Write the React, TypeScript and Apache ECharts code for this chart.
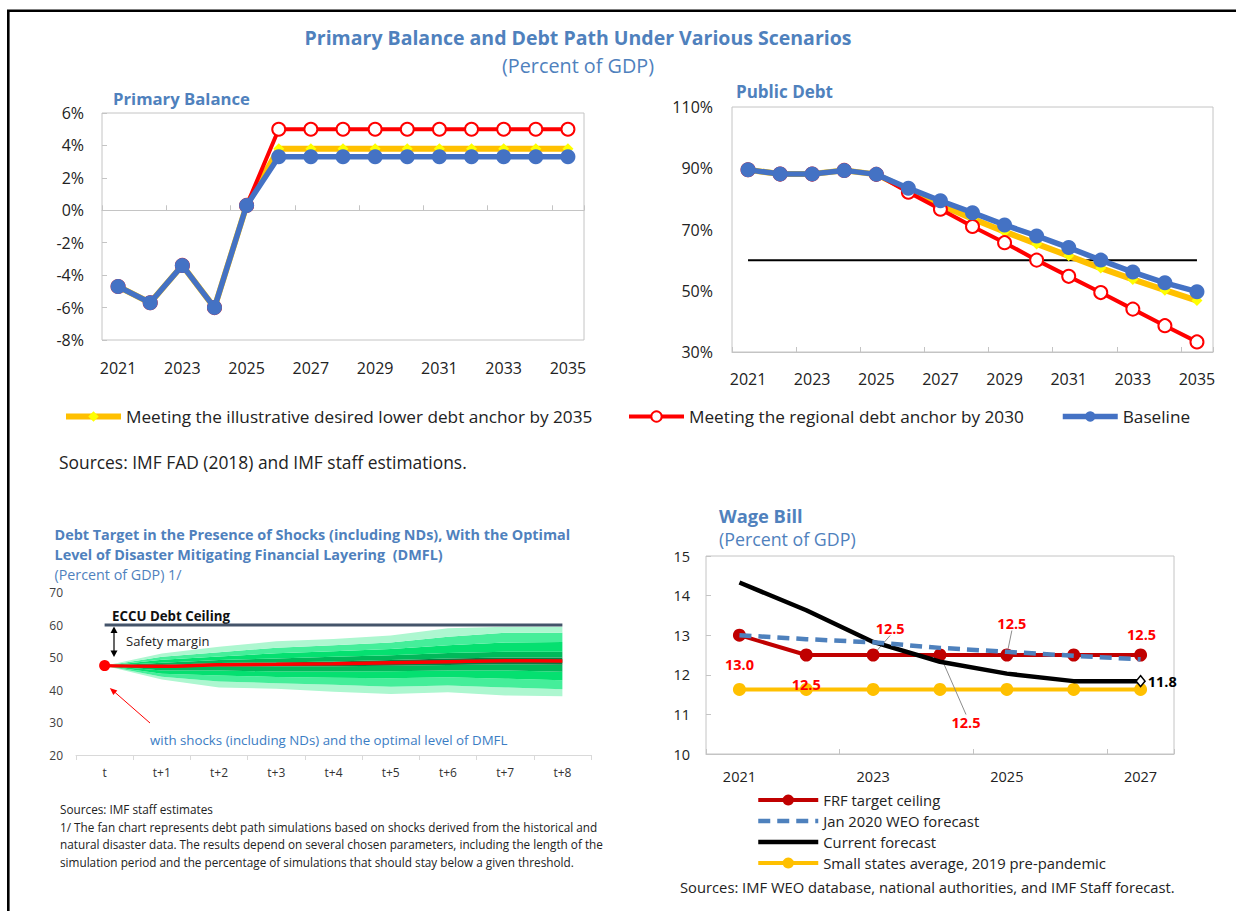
import React, { useEffect, useRef } from "react";
import * as echarts from "echarts";

// ---------------- DATA ----------------
const years = ["2021", "2022", "2023", "2024", "2025", "2026", "2027", "2028", "2029", "2030", "2031", "2032", "2033", "2034", "2035"];

const nameLower = "Meeting the illustrative desired lower debt anchor by 2035";
const nameRegional = "Meeting the regional debt anchor by 2030";
const nameBase = "Baseline";

const pbBaseline = [-4.7, -5.7, -3.4, -6.0, 0.3, 3.3, 3.3, 3.3, 3.3, 3.3, 3.3, 3.3, 3.3, 3.3, 3.3];
const pbRegional = [-4.7, -5.7, -3.4, -6.0, 0.3, 5.0, 5.0, 5.0, 5.0, 5.0, 5.0, 5.0, 5.0, 5.0, 5.0];
const pbLower = [-4.7, -5.7, -3.4, -6.0, 0.3, 3.8, 3.8, 3.8, 3.8, 3.8, 3.8, 3.8, 3.8, 3.8, 3.8];

const debtBaseline = [89.5, 88.1, 88.1, 89.3, 88.0, 83.5, 79.4, 75.5, 71.5, 67.9, 64.1, 60.0, 56.1, 52.6, 49.7];
const debtRegional = [89.5, 88.1, 88.1, 89.3, 88.0, 82.2, 76.6, 71.0, 65.7, 60.0, 54.7, 49.4, 44.0, 38.6, 33.3];
const debtLower = [89.5, 88.1, 88.1, 89.3, 88.0, 83.0, 78.0, 73.5, 69.3, 65.3, 61.4, 57.4, 53.7, 50.2, 46.8];
const debtAnchor = [60, 60, 60, 60, 60, 60, 60, 60, 60, 60, 60, 60, 60, 60, 60];

const fanPeriods = ["t", "t+1", "t+2", "t+3", "t+4", "t+5", "t+6", "t+7", "t+8"];
const fanMedian = [47.5, 47.3, 47.8, 47.9, 48.1, 48.4, 48.7, 49.0, 48.9];
const fanCeiling = [60, 60, 60, 60, 60, 60, 60, 60, 60];
const fanP05 = [47.5, 43.2, 40.8, 40.4, 39.5, 38.8, 39.3, 38.3, 38.1];
const fanP10 = [47.5, 44.1, 42.6, 42.1, 41.6, 41.0, 41.4, 40.8, 40.2];
const fanP20 = [47.5, 45.0, 44.5, 44.0, 43.8, 43.6, 43.9, 43.5, 43.0];
const fanP30 = [47.5, 46.0, 46.0, 45.7, 45.7, 45.8, 46.0, 46.0, 45.6];
const fanP40 = [47.5, 46.9, 47.3, 47.2, 47.3, 47.5, 47.7, 47.9, 47.8];
const fanP60 = [47.5, 47.7, 48.3, 48.5, 48.8, 49.2, 49.7, 50.0, 50.0];
const fanP70 = [47.5, 48.4, 49.2, 49.7, 50.2, 50.7, 51.4, 51.8, 51.8];
const fanP80 = [47.5, 49.3, 50.3, 51.3, 51.9, 52.6, 53.8, 54.6, 54.8];
const fanP90 = [47.5, 50.2, 51.6, 53.0, 53.8, 54.6, 56.4, 57.6, 57.6];
const fanP95 = [47.5, 51.2, 53.3, 55.0, 55.7, 56.8, 59.0, 59.5, 59.5];

const wageYears = ["2021", "2022", "2023", "2024", "2025", "2026", "2027"];
const wageFrf = [13.0, 12.5, 12.5, 12.5, 12.5, 12.5, 12.5];
const wageJan2020 = [13.0, 12.9, 12.82, 12.68, 12.58, 12.48, 12.39];
const wageCurrent = [14.33, 13.63, 12.83, 12.33, 12.03, 11.84, 11.84];
const wageSmallStates = [11.63, 11.63, 11.63, 11.63, 11.63, 11.63, 11.63];

const nameFrf = "FRF target ceiling";
const nameJan = "Jan 2020 WEO forecast";
const nameCur = "Current forecast";
const nameSmall = "Small states average, 2019 pre-pandemic";

// ---------------- STYLE ----------------
const FONT = "'Open Sans', 'Noto Sans', sans-serif";
const BLUE_T = "#4F81BD";
const AX = "#222222";
const BORDER = "#C4C4C4";

// label placement offsets for FRF labels (pixels, relative to point)
const frfLabelShift: (number[] | null)[] = [[0, 29], [0, 29], [17, -27], [26, 67], [5, -32], null, [1, -21]];
const frfLeader = [false, false, true, true, true, false, false];

function catAxis(gridIndex: number, data: string[], extra: any) {
  return Object.assign(
    {
      type: "category",
      gridIndex,
      data,
      boundaryGap: true,
      position: "bottom",
      splitLine: { show: false },
    },
    extra
  );
}

function topSeries(xi: number, yi: number, lower: number[], regional: number[], base: number[]) {
  return [
    {
      name: nameLower,
      type: "line",
      xAxisIndex: xi,
      yAxisIndex: yi,
      data: lower,
      showAllSymbol: true,
      symbol: "diamond",
      symbolSize: 11,
      itemStyle: { color: "#FFFF00" },
      lineStyle: { color: "#FFC000", width: 6 },
      z: 3,
    },
    {
      name: nameRegional,
      type: "line",
      xAxisIndex: xi,
      yAxisIndex: yi,
      data: regional,
      showAllSymbol: true,
      symbol: "circle",
      symbolSize: 13,
      itemStyle: { color: "#FFFFFF", borderColor: "#FF0000", borderWidth: 2 },
      lineStyle: { color: "#FF0000", width: 4 },
      z: 4,
    },
    {
      name: nameBase,
      type: "line",
      xAxisIndex: xi,
      yAxisIndex: yi,
      data: base,
      showAllSymbol: true,
      symbol: "circle",
      symbolSize: 15,
      itemStyle: { color: "#4472C4" },
      lineStyle: { color: "#4472C4", width: 5.5 },
      z: 5,
    },
  ];
}

function txt(text: string, x: number, y: number, font: string, fill: string, align = "left") {
  return {
    type: "text",
    x,
    y,
    silent: true,
    style: { text, font: font + " " + FONT, fill, align, verticalAlign: "middle" },
  };
}

const fanBounds = [fanP05, fanP10, fanP20, fanP30, fanP40, fanP60, fanP70, fanP80, fanP90, fanP95];
const fanColors = ["#ADF7D0", "#45EE9A", "#05E070", "#00B95A", "#0B7A41", "#00B95A", "#05E070", "#45EE9A", "#ADF7D0"];

function buildOption() {
  const fanSeries: any[] = [
    {
      type: "line",
      name: "fanBase",
      xAxisIndex: 3,
      yAxisIndex: 2,
      stack: "fan",
      data: fanP05,
      symbol: "none",
      silent: true,
      lineStyle: { width: 0, opacity: 0 },
      z: 1,
    },
  ];
  for (let k = 0; k < fanColors.length; k++) {
    const lo = fanBounds[k];
    const hi = fanBounds[k + 1];
    fanSeries.push({
      type: "line",
      name: "fanBand" + k,
      xAxisIndex: 3,
      yAxisIndex: 2,
      stack: "fan",
      data: hi.map((v, i) => Math.round((v - lo[i]) * 1000) / 1000),
      symbol: "none",
      silent: true,
      lineStyle: { width: 0, opacity: 0 },
      areaStyle: { color: fanColors[k], opacity: 1 },
      z: 1,
    });
  }

  const legendCommon = {
    padding: 0,
    itemGap: 0,
    selectedMode: false,
    textStyle: { fontSize: 17.2, color: AX, fontFamily: FONT },
    lineStyle: { width: "inherit" },
  };

  return {
    animation: false,
    backgroundColor: "#FFFFFF",
    textStyle: { fontFamily: FONT },
    grid: [
      { left: 102, top: 113, width: 482, height: 227, show: true, borderColor: BORDER, borderWidth: 1, outerBoundsMode: "none" },
      { left: 732, top: 107, width: 481, height: 245, show: true, borderColor: BORDER, borderWidth: 1, outerBoundsMode: "none" },
      { left: 76, top: 592.5, width: 515, height: 162.5, show: false, outerBoundsMode: "none" },
      { left: 706, top: 556, width: 468, height: 198, show: true, borderColor: BORDER, borderWidth: 1, outerBoundsMode: "none" },
    ],
    xAxis: [
      catAxis(0, years, {
        axisLine: { show: false, onZero: false },
        axisTick: { show: false },
        axisLabel: { interval: 1, fontSize: 16, color: AX, margin: 20, fontFamily: FONT },
      }),
      catAxis(0, years, {
        axisLine: { show: true, onZero: true, onZeroAxisIndex: 0, lineStyle: { color: BORDER, width: 1 } },
        axisTick: { show: true, inside: true, length: 5, lineStyle: { color: BORDER } },
        axisLabel: { show: false },
      }),
      catAxis(1, years, {
        axisLine: { show: true, onZero: false, lineStyle: { color: BORDER, width: 1 } },
        axisTick: { show: true, inside: true, length: 5, lineStyle: { color: BORDER } },
        axisLabel: { interval: 1, fontSize: 16, color: AX, margin: 19, fontFamily: FONT },
      }),
      catAxis(2, fanPeriods, {
        axisLine: { show: true, onZero: false, lineStyle: { color: "#D9D9D9", width: 1 } },
        axisTick: { show: true, inside: false, length: 5, lineStyle: { color: "#D9D9D9" } },
        axisLabel: { interval: 0, fontSize: 12, color: "#333333", margin: 11, fontFamily: FONT },
      }),
      catAxis(3, wageYears, {
        axisLine: { show: true, onZero: false, lineStyle: { color: BORDER, width: 1 } },
        axisTick: { show: true, inside: true, length: 5, lineStyle: { color: BORDER } },
        axisLabel: { interval: 1, fontSize: 14.5, color: AX, margin: 15, fontFamily: FONT },
      }),
    ],
    yAxis: [
      {
        type: "value",
        gridIndex: 0,
        min: -8,
        max: 6,
        interval: 2,
        axisLine: { show: false },
        axisTick: { show: true, inside: true, length: 5, lineStyle: { color: BORDER } },
        splitLine: { show: false },
        axisLabel: { formatter: "{value}%", fontSize: 16, color: AX, margin: 18, fontFamily: FONT },
      },
      {
        type: "value",
        gridIndex: 1,
        min: 30,
        max: 110,
        interval: 20,
        axisLine: { show: false },
        axisTick: { show: false },
        splitLine: { show: false },
        axisLabel: { formatter: "{value}%", fontSize: 16, color: AX, margin: 19, fontFamily: FONT },
      },
      {
        type: "value",
        gridIndex: 2,
        min: 20,
        max: 70,
        interval: 10,
        axisLine: { show: false },
        axisTick: { show: false },
        splitLine: { show: false },
        axisLabel: { fontSize: 12, color: "#404040", margin: 13, fontFamily: FONT },
      },
      {
        type: "value",
        gridIndex: 3,
        min: 10,
        max: 15,
        interval: 1,
        axisLine: { show: false },
        axisTick: { show: true, inside: true, length: 5, lineStyle: { color: BORDER } },
        splitLine: { show: false },
        axisLabel: { fontSize: 14.5, color: AX, margin: 16, fontFamily: FONT },
      },
    ],
    legend: [
      Object.assign({}, legendCommon, { data: [nameLower], left: 63, top: 408, itemWidth: 55, itemHeight: 13 }),
      Object.assign({}, legendCommon, { data: [nameRegional], left: 627, top: 408, itemWidth: 55, itemHeight: 13 }),
      Object.assign({}, legendCommon, { data: [nameBase], left: 1060, top: 408, itemWidth: 55, itemHeight: 13 }),
      Object.assign({}, legendCommon, {
        orient: "vertical",
        left: 756,
        top: 792.5,
        itemWidth: 60,
        itemHeight: 14,
        itemGap: 6,
        textStyle: { fontSize: 14.8, lineHeight: 14, color: AX, fontFamily: FONT },
        data: [
          { name: nameFrf },
          { name: nameJan, itemStyle: { opacity: 0 } },
          { name: nameCur, itemStyle: { opacity: 0 } },
          { name: nameSmall },
        ],
      }),
    ],
    series: [
      ...topSeries(0, 0, pbLower, pbRegional, pbBaseline),
      {
        name: "Regional debt anchor",
        type: "line",
        xAxisIndex: 2,
        yAxisIndex: 1,
        data: debtAnchor,
        symbol: "none",
        lineStyle: { color: "#000000", width: 2 },
        z: 2,
      },
      ...topSeries(2, 1, debtLower, debtRegional, debtBaseline),
      ...fanSeries,
      {
        name: "ECCU Debt Ceiling",
        type: "line",
        xAxisIndex: 3,
        yAxisIndex: 2,
        data: fanCeiling,
        symbol: "none",
        lineStyle: { color: "#44546A", width: 3 },
        z: 3,
      },
      {
        name: "Median path",
        type: "line",
        xAxisIndex: 3,
        yAxisIndex: 2,
        data: fanMedian.map((v, i) => (i === 0 ? { value: v, symbol: "circle", symbolSize: 11 } : { value: v })),
        symbol: "none",
        showAllSymbol: true,
        smooth: 0.3,
        itemStyle: { color: "#FF0000" },
        lineStyle: { color: "#FF0000", width: 3.5 },
        z: 4,
      },
      // Wage bill
      {
        name: nameSmall,
        type: "line",
        xAxisIndex: 4,
        yAxisIndex: 3,
        data: wageSmallStates,
        showAllSymbol: true,
        symbol: "circle",
        symbolSize: 13,
        itemStyle: { color: "#FFC000" },
        lineStyle: { color: "#FFC000", width: 4 },
        z: 2,
      },
      {
        name: nameFrf,
        type: "line",
        xAxisIndex: 4,
        yAxisIndex: 3,
        data: wageFrf.map((v, i) => ({
          value: v,
          label: { show: frfLabelShift[i] != null },
          labelLine: { show: frfLeader[i], lineStyle: { color: "#8C8C8C", width: 1 } },
        })),
        showAllSymbol: true,
        symbol: "circle",
        symbolSize: 13,
        itemStyle: { color: "#C00000" },
        lineStyle: { color: "#C00000", width: 4 },
        label: {
          show: false,
          position: "inside",
          color: "#FF0000",
          fontWeight: "bold",
          fontSize: 14.5,
          fontFamily: FONT,
          formatter: (p: any) => Number(p.value).toFixed(1),
        },
        labelLine: { show: false },
        labelLayout: (p: any) => {
          const s = frfLabelShift[p.dataIndex];
          return s ? { dx: s[0], dy: s[1] } : {};
        },
        z: 3,
      },
      {
        name: nameCur,
        type: "line",
        xAxisIndex: 4,
        yAxisIndex: 3,
        data: wageCurrent.map((v, i) =>
          i === wageCurrent.length - 1
            ? {
                value: v,
                symbol: "diamond",
                symbolSize: [9, 11],
                itemStyle: { color: "#FFFFFF", borderColor: "#000000", borderWidth: 1.5 },
                label: {
                  show: true,
                  position: "right",
                  distance: 2,
                  color: "#000000",
                  fontWeight: "bold",
                  fontSize: 14.5,
                  fontFamily: FONT,
                  formatter: (p: any) => Number(p.value).toFixed(1),
                },
              }
            : { value: v }
        ),
        symbol: "none",
        showAllSymbol: true,
        itemStyle: { color: "#000000" },
        lineStyle: { color: "#000000", width: 4.5 },
        z: 4,
      },
      {
        name: nameJan,
        type: "line",
        xAxisIndex: 4,
        yAxisIndex: 3,
        data: wageJan2020,
        symbol: "none",
        itemStyle: { color: "#4E81BD" },
        lineStyle: { color: "#4E81BD", width: 4.5, type: [12, 7] },
        z: 5,
      },
    ],
    graphic: [
      {
        type: "polyline",
        silent: true,
        shape: { points: [[8.3, 911], [8.3, 10.7], [1236, 10.7]] },
        style: { stroke: "#000000", lineWidth: 2.6, fill: null },
      },
      txt("Primary Balance and Debt Path Under Various Scenarios", 578, 37, "bold 19.5px", BLUE_T, "center"),
      txt("(Percent of GDP)", 578, 65, "19.8px", BLUE_T, "center"),
      txt("Primary Balance", 113, 98, "bold 16.7px", BLUE_T),
      txt("Public Debt", 736, 91, "bold 17px", BLUE_T),
      txt("Sources: IMF FAD (2018) and IMF staff estimations.", 59, 462, "17.4px", AX),
      txt("Debt Target in the Presence of Shocks (including NDs), With the Optimal", 54.5, 534, "bold 14.4px", BLUE_T),
      txt("Level of Disaster Mitigating Financial Layering  (DMFL)", 54.5, 554, "bold 14.4px", BLUE_T),
      txt("(Percent of GDP) 1/", 54.5, 574, "14.3px", BLUE_T),
      txt("ECCU Debt Ceiling", 112, 616, "bold 13.3px", "#111111"),
      txt("Safety margin", 126, 641, "13px", "#222222"),
      txt("with shocks (including NDs) and the optimal level of DMFL", 150, 740, "13.3px", "#3B7DC4"),
      txt("Sources: IMF staff estimates", 60, 809, "11.75px", AX),
      txt("1/ The fan chart represents debt path simulations based on shocks derived from the historical and", 60, 827, "11.75px", AX),
      txt("natural disaster data. The results depend on several chosen parameters, including the length of the", 60, 844, "11.75px", AX),
      txt("simulation period and the percentage of simulations that should stay below a given threshold.", 60, 862, "11.75px", AX),
      txt("Wage Bill", 719, 515, "bold 18.3px", BLUE_T),
      txt("(Percent of GDP)", 719, 539, "17.8px", BLUE_T),
      txt("Sources: IMF WEO database, national authorities, and IMF Staff forecast.", 680, 887, "14.75px", AX),
      // safety margin double arrow
      {
        type: "line",
        silent: true,
        shape: { x1: 114, y1: 632, x2: 114, y2: 651 },
        style: { stroke: "#000000", lineWidth: 1.2 },
      },
      {
        type: "polygon",
        silent: true,
        shape: { points: [[114, 626.5], [110.5, 633], [117.5, 633]] },
        style: { fill: "#000000" },
      },
      {
        type: "polygon",
        silent: true,
        shape: { points: [[114, 657], [110.5, 650.5], [117.5, 650.5]] },
        style: { fill: "#000000" },
      },
      // red pointer arrow
      {
        type: "line",
        silent: true,
        shape: { x1: 150, y1: 723, x2: 114, y2: 691.5 },
        style: { stroke: "#FF0000", lineWidth: 1 },
      },
      {
        type: "polygon",
        silent: true,
        shape: { points: [[109.8, 688], [117.3, 690.4], [113.3, 695]] },
        style: { fill: "#FF0000" },
      },
    ],
  };
}

export default function App() {
  const ref = useRef<HTMLDivElement>(null);
  useEffect(() => {
    if (!ref.current) return;
    const chart = echarts.init(ref.current, undefined, { renderer: "svg", width: 1236, height: 911 });
    chart.setOption(buildOption() as any);
    return () => {
      chart.dispose();
    };
  }, []);
  return (
    <div
      ref={ref}
      style={{ position: "fixed", left: 0, top: 0, width: 1236, height: 911, background: "#FFFFFF" }}
    />
  );
}
